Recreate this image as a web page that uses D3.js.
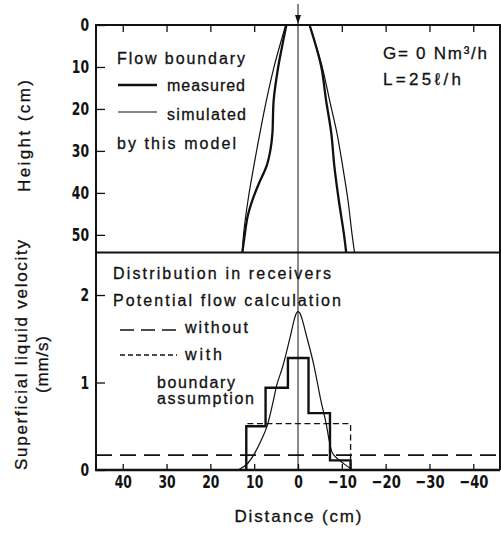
<!DOCTYPE html>
<html>
<head>
<meta charset="utf-8">
<script src="https://cdn.jsdelivr.net/npm/d3@7"></script>
<style>
  body { margin: 0; background: #fff; }
  text { font-family: "Liberation Sans", Arial, sans-serif; fill: #111; stroke: #111; stroke-width: 0.3; }
  .tick text { font-family: "DejaVu Sans Condensed", "DejaVu Sans", sans-serif; font-weight: bold; font-size: 18.5px; stroke: none; }
</style>
</head>
<body>
<div id="chart"></div>
<script>
// top panel: flow boundary, points are [distance (cm), height (cm)]
var measuredLeft = [[2.66,0],[3.8,6],[4.5,9.9],[5.55,17.9],[5.84,25.8],[6.3,29.8],[7.2,33.7],[8.9,37.7],[10.4,41.7],[11.5,45.6],[12.1,49.6],[12.7,54.2]];
var measuredRight = [[-2.64,0],[-5.3,9.9],[-6.4,17.9],[-7.6,25.8],[-8.3,33.7],[-9.3,41.7],[-10.45,49.6],[-11.0,54.2]];
var simulatedLeft = [[2.8,0],[5.45,9.9],[7.2,17.9],[8.7,25.8],[10.1,33.7],[11.4,41.7],[12.4,49.6],[12.7,54.2]];
var simulatedRight = [[-2.64,0],[-5.5,9.9],[-7.2,17.9],[-8.9,25.8],[-10.2,33.7],[-11.4,41.7],[-12.3,49.6],[-12.9,54.2]];

// bottom panel: receivers, points are [distance (cm), velocity (mm/s)]
var receiverEdges = [11.8, 7.4, 2.3, -2.4, -7.3, -12.0];
var receiverVelocity = [0.50, 0.94, 1.28, 0.65, 0.11];
var withBoundary = [[11.8,0],[11.8,0.53],[-12.0,0.53],[-12.0,0]];
var withoutBoundary = 0.17;
var simulatedVelocity = [[13.5,0.005],[11.4,0.08],[9.9,0.19],[8.4,0.34],[7.0,0.51],[5.6,0.80],[5.0,0.94],[3.5,1.18],[1.6,1.56],[0.8,1.73],[0.35,1.795],[0,1.81],[-0.4,1.795],[-0.9,1.73],[-1.8,1.56],[-3.7,1.18],[-5.2,0.80],[-6.5,0.51],[-7.1,0.34],[-7.7,0.21],[-9.0,0.13],[-10.5,0.07],[-12.3,0.005]];

var distanceTicks = [40, 30, 20, 10, 0, -10, -20, -30, -40];
var heightTicks = [0, 10, 20, 30, 40, 50];
var velocityTicks = [0, 1, 2];

var left = 96, right = 500, top1 = 25, mid = 252.5, bottom = 470;

var svg = d3.select("#chart").append("svg")
    .attr("width", 501)
    .attr("height", 534);

var x = d3.scaleLinear().domain([46.1, -46.1]).range([left, right]);
var yh = d3.scaleLinear().domain([0, 54.2]).range([top1, mid]);
var yv = d3.scaleLinear().domain([0, 2.486]).range([bottom, mid]);
var fmt = d3.format("d");

// axes (ticks point inward)
svg.append("g")
    .attr("transform", "translate(" + left + ",0)")
    .call(d3.axisLeft(yh).tickValues(heightTicks).tickFormat(fmt).tickSize(-9).tickSizeOuter(0).tickPadding(7))
    .call(function(g) { g.select(".domain").remove(); });

svg.append("g")
    .attr("transform", "translate(" + left + ",0)")
    .call(d3.axisLeft(yv).tickValues(velocityTicks).tickFormat(fmt).tickSize(-9).tickSizeOuter(0).tickPadding(7))
    .call(function(g) { g.select(".domain").remove(); });

svg.append("g")
    .attr("transform", "translate(0," + top1 + ")")
    .call(d3.axisTop(x).tickValues(distanceTicks.filter(function(d) { return d !== 0; }))
      .tickSize(-7).tickSizeOuter(0).tickFormat(""))
    .call(function(g) { g.select(".domain").remove(); });

svg.append("g")
    .attr("transform", "translate(0," + bottom + ")")
    .call(d3.axisBottom(x).tickValues(distanceTicks).tickFormat(fmt).tickSize(-6).tickSizeOuter(0).tickPadding(5))
    .call(function(g) { g.select(".domain").remove(); });

svg.selectAll(".tick line").attr("stroke", "#111").attr("stroke-width", 1.3);
// narrow the tick digits
svg.selectAll(".tick text").each(function(d) {
  var s = fmt(d);
  if (!s) return;
  var w = 8.6 * s.replace("−", "").length + (s.indexOf("−") >= 0 ? 12 : 0);
  d3.select(this).attr("textLength", w).attr("lengthAdjust", "spacingAndGlyphs");
});

// frame
svg.append("path")
    .attr("d", "M" + left + "," + bottom + "V" + top1 + "H" + right + "V" + bottom)
    .attr("fill", "none").attr("stroke", "#111").attr("stroke-width", 2);
svg.append("line")
    .attr("x1", left).attr("x2", right).attr("y1", mid).attr("y2", mid)
    .attr("stroke", "#111").attr("stroke-width", 2.2);
svg.append("line")
    .attr("x1", left - 1).attr("x2", right).attr("y1", bottom).attr("y2", bottom)
    .attr("stroke", "#111").attr("stroke-width", 2.6);

// centre line and arrow
svg.append("line")
    .attr("x1", x(0)).attr("x2", x(0)).attr("y1", 4).attr("y2", bottom)
    .attr("stroke", "#111").attr("stroke-width", 1);
svg.append("path")
    .attr("d", "M" + (x(0) - 3) + ",15L" + (x(0) + 3) + ",15L" + x(0) + "," + (top1 - 1) + "Z")
    .attr("fill", "#111");

// top panel curves
var hLine = d3.line()
    .x(function(d) { return x(d[0]); })
    .y(function(d) { return yh(d[1]); })
    .curve(d3.curveCatmullRom);

[measuredLeft, measuredRight].forEach(function(c) {
  svg.append("path").attr("d", hLine(c))
    .attr("fill", "none").attr("stroke", "#111").attr("stroke-width", 2.3);
});
[simulatedLeft, simulatedRight].forEach(function(c) {
  svg.append("path").attr("d", hLine(c))
    .attr("fill", "none").attr("stroke", "#111").attr("stroke-width", 1.2);
});

// bottom panel
var vLine = d3.line()
    .x(function(d) { return x(d[0]); })
    .y(function(d) { return yv(d[1]); });

svg.append("line")
    .attr("x1", left).attr("x2", right)
    .attr("y1", yv(withoutBoundary)).attr("y2", yv(withoutBoundary))
    .attr("stroke", "#111").attr("stroke-width", 1.6).attr("stroke-dasharray", "16,8");

svg.append("path").attr("d", vLine(withBoundary))
    .attr("fill", "none").attr("stroke", "#111").attr("stroke-width", 1.3).attr("stroke-dasharray", "6,3.5");

var steps = [[receiverEdges[0], 0]];
receiverVelocity.forEach(function(v, i) {
  steps.push([receiverEdges[i], v]);
  steps.push([receiverEdges[i + 1], v]);
});
steps.push([receiverEdges[receiverEdges.length - 1], 0]);
svg.append("path").attr("d", vLine(steps))
    .attr("fill", "none").attr("stroke", "#111").attr("stroke-width", 2.4);

svg.append("path").attr("d", vLine.curve(d3.curveMonotoneX)(simulatedVelocity))
    .attr("fill", "none").attr("stroke", "#111").attr("stroke-width", 1.2);

// legends and notes
function label(t, x0, y0, w, size) {
  return svg.append("text")
    .attr("x", x0).attr("y", y0)
    .attr("font-size", size || 16)
    .attr("textLength", w).attr("lengthAdjust", "spacing")
    .text(t);
}

label("Flow boundary", 117, 64, 128);
svg.append("line").attr("x1", 118).attr("x2", 157).attr("y1", 85).attr("y2", 85)
    .attr("stroke", "#111").attr("stroke-width", 2.3);
label("measured", 167, 90.5, 78);
svg.append("line").attr("x1", 118).attr("x2", 157).attr("y1", 112).attr("y2", 112)
    .attr("stroke", "#111").attr("stroke-width", 1.2);
label("simulated", 167, 120, 79);
label("by this model", 117, 149, 119);

label("G= 0 Nm³/h", 383, 59, 104, 17);
label("L=25ℓ/h", 383, 85, 78, 17);

label("Distribution in receivers", 113, 279, 218);
label("Potential flow calculation", 113, 306, 228);
svg.append("line").attr("x1", 120).attr("x2", 177).attr("y1", 330).attr("y2", 330)
    .attr("stroke", "#111").attr("stroke-width", 1.6).attr("stroke-dasharray", "14,7");
label("without", 185, 333, 63);
svg.append("line").attr("x1", 120).attr("x2", 177).attr("y1", 355).attr("y2", 355)
    .attr("stroke", "#111").attr("stroke-width", 1.3).attr("stroke-dasharray", "5,3");
label("with", 185, 360, 37);
label("boundary", 157, 387.5, 78);
label("assumption", 157, 403.5, 97);

// axis titles
svg.append("text")
    .attr("transform", "translate(30,136) rotate(-90)")
    .attr("text-anchor", "middle").attr("font-size", 17)
    .attr("textLength", 112).attr("lengthAdjust", "spacing")
    .text("Height (cm)");
svg.append("text")
    .attr("transform", "translate(27,355) rotate(-90)")
    .attr("text-anchor", "middle").attr("font-size", 17)
    .attr("textLength", 230).attr("lengthAdjust", "spacing")
    .text("Superficial liquid velocity");
svg.append("text")
    .attr("transform", "translate(48,364.5) rotate(-90)")
    .attr("text-anchor", "middle").attr("font-size", 17)
    .attr("textLength", 57).attr("lengthAdjust", "spacing")
    .text("(mm/s)");
svg.append("text")
    .attr("x", 298).attr("y", 522)
    .attr("text-anchor", "middle").attr("font-size", 17)
    .attr("textLength", 127).attr("lengthAdjust", "spacing")
    .text("Distance (cm)");
</script>
</body>
</html>
